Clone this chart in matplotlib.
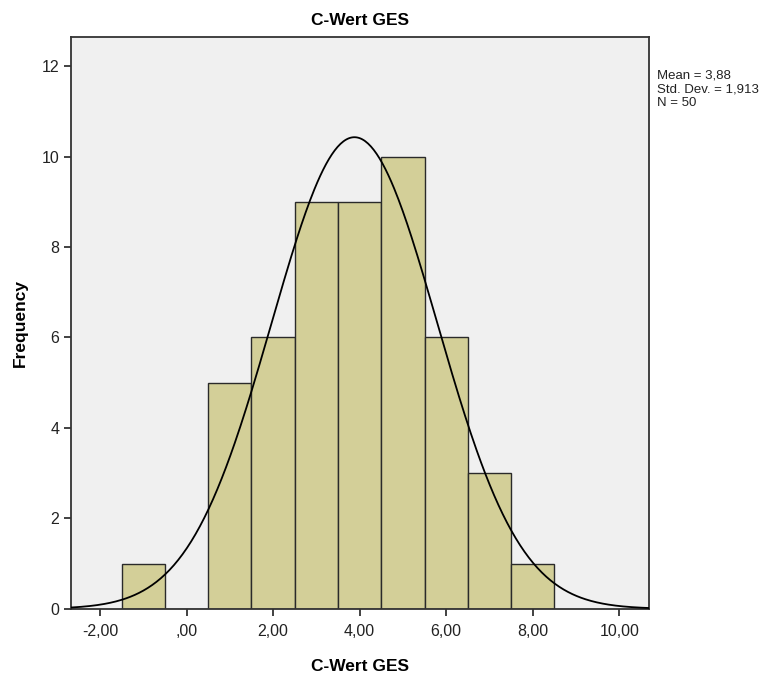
import numpy as np
import matplotlib
matplotlib.use("Agg")
import matplotlib.pyplot as plt
from matplotlib.ticker import FuncFormatter

plt.rcParams['font.family'] = ['Liberation Sans', 'DejaVu Sans']

# histogram data (bin centers, width 1)
bin_centers = [-1, 0, 1, 2, 3, 4, 5, 6, 7, 8]
counts = [1, 0, 5, 6, 9, 9, 10, 6, 3, 1]
bin_width = 1.0

mean = 3.88
std = 1.913
n = 50

x_ticks = [-2, 0, 2, 4, 6, 8, 10]
y_ticks = [0, 2, 4, 6, 8, 10, 12]


def de_fmt(v, pos):
    s = "%.2f" % v
    s = s.replace(".", ",")
    if s.startswith("0,"):
        s = s[1:]
    if s.startswith("-0,"):
        s = "-" + s[2:]
    return s


fig = plt.figure(figsize=(7.78, 6.75), dpi=100)
ax = fig.add_axes([0.0913, 0.098, 0.743, 0.847])
ax.set_facecolor("#F0F0F0")

ax.bar(bin_centers, counts, width=bin_width, color="#D3CF98",
       edgecolor="#2a2a2a", linewidth=1.0, zorder=2)

# fitted normal curve from the shown stats
xs = np.linspace(-2.67, 10.69, 400)
ys = n * bin_width / (std * np.sqrt(2 * np.pi)) * np.exp(-0.5 * ((xs - mean) / std) ** 2)
ax.plot(xs, ys, color="black", linewidth=1.3, zorder=3)

ax.set_xlim(-2.67, 10.69)
ax.set_ylim(0, 12.64)
ax.set_xticks(x_ticks)
ax.set_yticks(y_ticks)
ax.xaxis.set_major_formatter(FuncFormatter(de_fmt))
ax.tick_params(direction="out", length=5, width=1.3, color="#333333",
               labelsize=11.5, labelcolor="#222222")
ax.tick_params(axis="x", pad=6)
for sp in ax.spines.values():
    sp.set_color("#333333")
    sp.set_linewidth(1.3)

ax.set_title("C-Wert GES", fontsize=12.5, fontweight="bold", pad=9)
ax.set_xlabel("C-Wert GES", fontsize=12.5, fontweight="bold")
ax.set_ylabel("Frequency", fontsize=12.5, fontweight="bold")
ax.xaxis.set_label_coords(0.5, -0.087)
ax.yaxis.set_label_coords(-0.074, 0.5)

stats = ["Mean = 3,88", "Std. Dev. = 1,913", "N = 50"]
for i, s in enumerate(stats):
    fig.text(0.845, 1 - (75 + 14 * i) / 675, s, fontsize=9.5,
             va="center", ha="left", color="#222222")

fig.savefig("out.png", dpi=100)
